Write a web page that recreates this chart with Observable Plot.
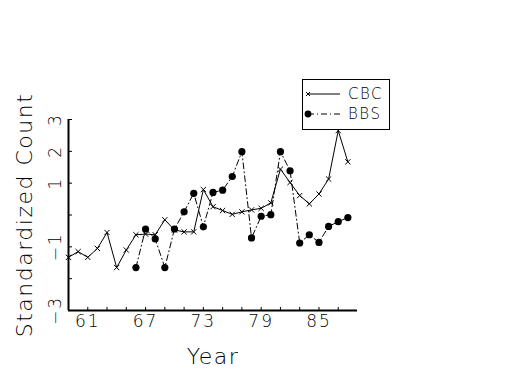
<!DOCTYPE html>
<html>
<head>
<meta charset="utf-8">
<script src="https://cdn.jsdelivr.net/npm/d3@7"></script>
<script src="https://cdn.jsdelivr.net/npm/@observablehq/plot@0.6"></script>
<style>
  html, body { margin: 0; padding: 0; background: #fff; }
  #wrap { position: relative; width: 525px; height: 375px; font-family: "DejaVu Sans", sans-serif; }
  #legend { position: absolute; left: 302px; top: 79px; }
  #wrap text { font-weight: 200; }
  .ticklab text { letter-spacing: 2px; }
  .bigLab text { letter-spacing: 1.5px; }
  #legend text { letter-spacing: 1.5px; }
</style>
</head>
<body>
<div id="wrap"><div id="legend"></div></div>
<script>
// Data
const cbcYears = [59,60,61,62,63,64,65,66,67,68,69,70,71,72,73,74,75,76,77,78,79,80,81,82,83,84,85,86,87,88];
const cbcValues = [-1.33,-1.15,-1.33,-1.05,-0.55,-1.65,-1.1,-0.62,-0.6,-0.62,-0.15,-0.47,-0.53,-0.53,0.8,0.26,0.14,0.02,0.1,0.16,0.21,0.38,1.44,1.02,0.61,0.35,0.66,1.13,2.65,1.67];
const bbsYears = [66,67,68,69,70,71,72,73,74,75,76,77,78,79,80,81,82,83,84,85,86,87,88];
const bbsValues = [-1.65,-0.44,-0.75,-1.65,-0.44,0.1,0.68,-0.37,0.71,0.78,1.21,1.99,-0.72,-0.04,0.01,1.99,1.39,-0.88,-0.62,-0.86,-0.36,-0.21,-0.08];

const xDomain = [59, 89];
const yDomain = [-3, 3];
const xTicks = [61,63,65,67,69,71,73,75,77,79,81,83,85,87];
const xTickLabels = [61, 67, 73, 79, 85];
const yTicks = [-3,-2,-1,0,1,2,3];
const yTickLabels = [3, 2, 1, -1, -3];
const xLabel = "Year";
const yLabel = "Standardized Count";
const seriesNames = ["CBC", "BBS"];

const cbc = cbcYears.map((y, i) => ({year: y, value: cbcValues[i]}));
const bbs = bbsYears.map((y, i) => ({year: y, value: bbsValues[i]}));
const fmt = d => (d < 0 ? "\u2212" + Math.abs(d) : String(d));
const dashDot = "6,3,1,3";

const chart = Plot.plot({
  width: 525,
  height: 375,
  marginLeft: 68,
  marginRight: 168,
  marginTop: 119,
  marginBottom: 65,
  x: {domain: xDomain},
  y: {domain: yDomain},
  style: {fontFamily: "DejaVu Sans, sans-serif", background: "white", color: "black"},
  marks: [
    Plot.axisX({ticks: xTicks, tickSize: -3, tickFormat: () => "", label: null, strokeWidth: 1}),
    Plot.axisY({ticks: yTicks, tickSize: -4, tickFormat: () => "", label: null, strokeWidth: 1}),
    Plot.ruleX([xDomain[0]], {strokeWidth: 2}),
    Plot.ruleY([yDomain[0]], {strokeWidth: 2}),
    Plot.text(xTickLabels, {x: d => d, text: d => String(d), frameAnchor: "bottom", dy: 11, fontSize: 17, lineAnchor: "middle", textAnchor: "middle", className: "ticklab"}),
    Plot.text(yTickLabels, {y: d => d, text: fmt, frameAnchor: "left", dx: -13, rotate: -90, fontSize: 17, lineAnchor: "middle", textAnchor: "middle", className: "ticklab"}),
    Plot.text([xLabel], {frameAnchor: "bottom", dy: 46, fontSize: 22, lineAnchor: "middle", textAnchor: "middle", text: d => d, className: "bigLab"}),
    Plot.text([yLabel], {frameAnchor: "left", dx: -44, rotate: -90, fontSize: 22, lineAnchor: "middle", textAnchor: "middle", text: d => d, className: "bigLab"}),
    Plot.line(cbc, {x: "year", y: "value", stroke: "black", strokeWidth: 1}),
    Plot.dot(cbc, {x: "year", y: "value", symbol: "times", r: 2.5, stroke: "black", strokeWidth: 1}),
    Plot.line(bbs, {x: "year", y: "value", stroke: "black", strokeWidth: 1, strokeDasharray: dashDot}),
    Plot.dot(bbs, {x: "year", y: "value", r: 3.6, fill: "black", stroke: "none"})
  ]
});
document.getElementById("wrap").appendChild(chart);

// Legend
const lg = d3.select("#legend").append("svg").attr("width", 90).attr("height", 52)
  .style("font-family", "DejaVu Sans, sans-serif");
lg.append("rect").attr("x", 0.5).attr("y", 0.5).attr("width", 87).attr("height", 50)
  .attr("fill", "white").attr("stroke", "black").attr("stroke-width", 1);
const rows = [
  {name: seriesNames[0], y: 15, dash: null, marker: "x"},
  {name: seriesNames[1], y: 35, dash: dashDot, marker: "dot"}
];
rows.forEach(r => {
  lg.append("line").attr("x1", 6).attr("x2", 38).attr("y1", r.y).attr("y2", r.y)
    .attr("stroke", "black").attr("stroke-width", 1).attr("stroke-dasharray", r.dash);
  if (r.marker === "x") {
    lg.append("path").attr("d", `M4,${r.y-2}L8,${r.y+2}M4,${r.y+2}L8,${r.y-2}`).attr("stroke", "black");
  } else {
    lg.append("circle").attr("cx", 6).attr("cy", r.y).attr("r", 3.4).attr("fill", "black");
  }
  lg.append("text").attr("x", 46).attr("y", r.y).attr("dy", "0.36em").attr("font-size", 15).text(r.name);
});
</script>
</body>
</html>
